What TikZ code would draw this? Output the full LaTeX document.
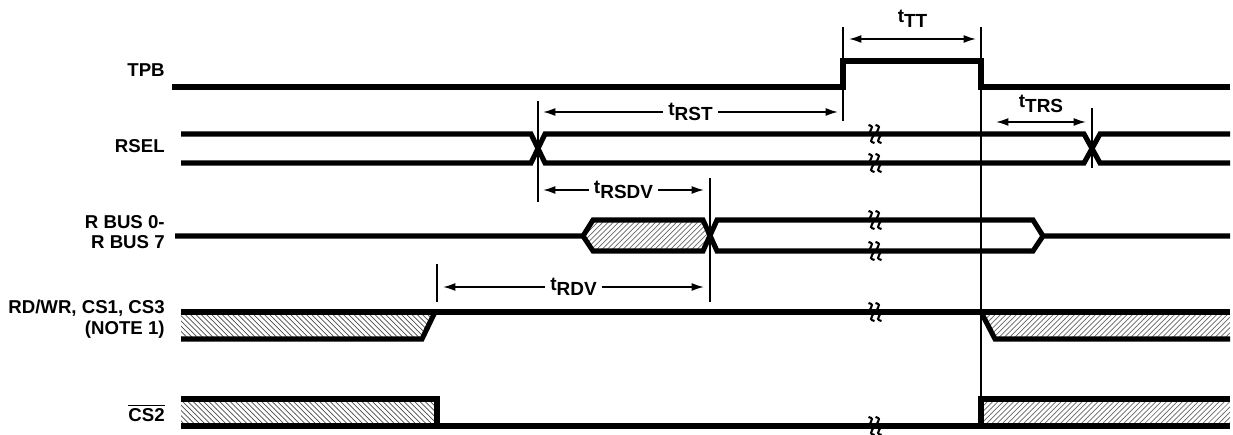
\documentclass[tikz,border=0pt]{standalone}
\usepackage{fontspec}
\setmainfont{Liberation Sans}
\usetikzlibrary{patterns,arrows.meta}
\newcommand{\tsub}[1]{t\raisebox{-0.5ex}{#1}}
\newcommand{\brk}[2]{\begin{scope}[shift={(#1,#2)}]
    \foreach \dx in {-3.5,3.5}
      \draw [line width=1.2pt] (\dx-3,-9) .. controls (\dx+6,-7) and (\dx-6,-2) .. (\dx,0)
                                          .. controls (\dx+6,2) and (\dx-6,7) .. (\dx+3,9);
  \end{scope}}
\begin{document}
\begin{tikzpicture}[x=0.02cm,y=-0.02cm,
    sig/.style={line width=2.9pt,line join=miter},
    vline/.style={line width=0.9pt},
    tm/.style={{Latex[length=7pt,width=4.5pt]}-{Latex[length=7pt,width=4.5pt]},line width=0.9pt},
    hatchl/.style={pattern=north west lines,pattern color=black!70},
    hatchr/.style={pattern=north east lines,pattern color=black!60},
    lbl/.style={anchor=east,align=right,inner sep=0pt,font=\bfseries\fontsize{10.6}{11.8}\selectfont},
    tlbl/.style={inner sep=3pt,font=\bfseries\fontsize{10.8}{12}\selectfont}]
  \useasboundingbox (0,0) rectangle (1233,435);
  % signal names
  \node [lbl] (tpb) at (165,70) {TPB};
  \node [lbl] (rsel) at (165,146) {RSEL};
  \node [lbl] (rbus) at (165,232) {R BUS 0-\\R BUS 7};
  \node [lbl] (rdwr) at (165,319) {RD/WR, CS1, CS3\\(NOTE 1)};
  \node [lbl] (cstwo) at (165,413) {$\overline{\hbox{CS2}}$};
  % hatched (invalid) areas
  \fill [hatchr] (583,236) -- (593,220) -- (703,220) -- (710,236) -- (703,251) -- (593,251) -- cycle;
  \fill [hatchl] (181,312) -- (435,312) -- (422,339) -- (181,339) -- cycle;
  \fill [hatchr] (981,312) -- (1230,312) -- (1230,339) -- (995,339) -- cycle;
  \fill [hatchl] (181,399) rectangle (437,426);
  \fill [hatchr] (981,399) rectangle (1230,426);
  % TPB
  \draw [sig] (172,87) -- (843,87) -- (843,61) -- (981,61) -- (981,87) -- (1230,87);
  % RSEL
  \draw [sig] (181,134) -- (531,134) -- (545,163) -- (1084,163) -- (1100,134) -- (1230,134);
  \draw [sig] (181,163) -- (531,163) -- (545,134) -- (1084,134) -- (1100,163) -- (1230,163);
  % R BUS
  \draw [sig] (175,236) -- (583,236) -- (593,220) -- (703,220) -- (717,251) -- (1033,251) -- (1043,236) -- (1230,236);
  \draw [sig] (583,236) -- (593,251) -- (703,251) -- (717,220) -- (1033,220) -- (1043,236);
  % RD/WR, CS1, CS3
  \draw [sig] (181,312) -- (1230,312);
  \draw [sig] (181,339) -- (422,339) -- (435,312);
  \draw [sig] (981,312) -- (995,339) -- (1230,339);
  % CS2
  \draw [sig] (181,399) -- (437,399) -- (437,426);
  \draw [sig] (181,426) -- (1230,426);
  \draw [sig] (981,426) -- (981,399) -- (1230,399);
  % time breaks
  \brk{875}{134} \brk{875}{163}
  \brk{875}{220} \brk{875}{251}
  \brk{875}{312} \brk{875}{426}
  % reference lines
  \coordinate (a1) at (843,27);  \coordinate (a2) at (843,121);
  \coordinate (b1) at (981,27);  \coordinate (b2) at (981,399);
  \coordinate (c1) at (538,101); \coordinate (c2) at (538,202);
  \coordinate (d1) at (710,178); \coordinate (d2) at (710,302);
  \coordinate (e1) at (437,264); \coordinate (e2) at (437,302);
  \coordinate (f1) at (1092,108); \coordinate (f2) at (1092,168);
  \foreach \p in {a,b,c,d,e,f}
    \draw [vline] (\p1) -- (\p2);
  % timing parameters
  \draw [tm] (849,39) -- (976,39) node [tlbl,midway,above=3pt] (ttt) {\tsub{TT}};
  \draw [tm] (543,112) -- (838,112) node [tlbl,midway,fill=white] (trst) {\tsub{RST}};
  \draw [tm] (996,122) -- (1086,122) node [tlbl,midway,above=2pt] (ttrs) {\tsub{TRS}};
  \draw [tm] (543,190) -- (704,190) node [tlbl,midway,fill=white] (trsdv) {\tsub{RSDV}};
  \draw [tm] (443,287) -- (704,287) node [tlbl,midway,fill=white] (trdv) {\tsub{RDV}};
\end{tikzpicture}
\end{document}
